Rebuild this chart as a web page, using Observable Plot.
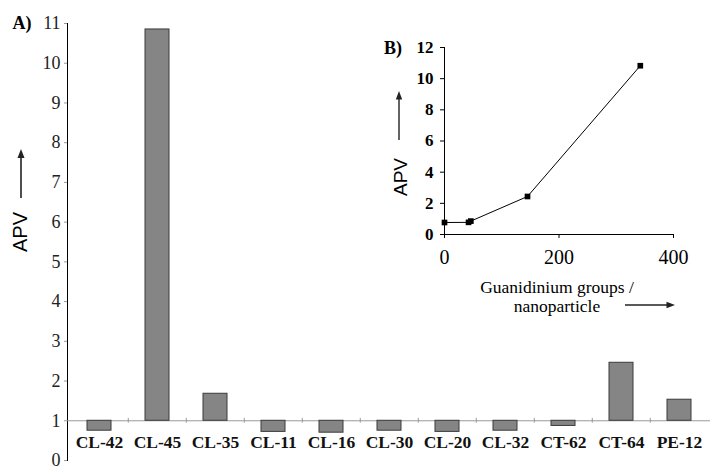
<!DOCTYPE html>
<html><head><meta charset="utf-8">
<script src="https://cdn.jsdelivr.net/npm/d3@7"></script>
<script src="https://cdn.jsdelivr.net/npm/@observablehq/plot@0.6"></script>
<style>
body{margin:0;background:#fff;}
#wrap{position:relative;width:710px;height:466px;overflow:hidden;font-family:"Liberation Serif",serif;color:#000;}
.abs{position:absolute;white-space:nowrap;line-height:1;}
.rot{transform:translate(-50%,-50%) rotate(-90deg);}
.ctr{transform:translate(-50%,-50%);}
#main svg g[aria-label*="y-axis"] line, #main svg g[aria-label*="y-axis"] path{stroke:#999 !important;}
#main svg g[aria-label*="y-axis"] text{font-family:"Liberation Serif",serif !important;font-size:18px !important;fill:#222;}
#inset svg g[aria-label*="x-axis"] text{font-family:"Liberation Serif",serif !important;font-size:20px !important;}
#inset svg g[aria-label*="y-axis"] text{font-family:"Liberation Serif",serif !important;font-size:17px !important;font-weight:bold;}
</style></head><body><div id="wrap"><div id="main" class="abs" style="left:0;top:0"></div><div id="inset" class="abs" style="left:370px;top:30px"></div></div>
<script>
// ---- data ----
const categories = ["CL-42","CL-45","CL-35","CL-11","CL-16","CL-30","CL-20","CL-32","CT-62","CT-64","PE-12"];
const apv = [0.75,10.85,1.68,0.72,0.70,0.75,0.72,0.75,0.87,2.46,1.53];
const baseline = 1;
const yTicks = [0,1,2,3,4,5,6,7,8,9,10,11];
const guanidinium = [0,42,46,145,342];
const apvInset = [0.77,0.78,0.86,2.44,10.83];
const insetXTicks = [0,200,400];
const insetYTicks = [0,2,4,6,8,10,12];

// ---- main bar chart ----
const W = 710, H = 466, mL = 67, mR = 0;
const step = (W - mL - mR) / categories.length;
const rows = categories.map((c, i) => ({cat: c, v: apv[i]}));
const main = Plot.plot({
  width: W, height: H, marginLeft: mL, marginRight: mR, marginTop: 23, marginBottom: 6,
  style: {fontFamily: "Liberation Serif", fontSize: "15px", background: "transparent", color: "#000"},
  x: {domain: categories, paddingInner: 0.59, paddingOuter: 0.295, axis: null},
  y: {domain: [0, 11], ticks: yTicks, tickSize: 3, tickPadding: 4, line: true, label: null, tickFormat: d => d},
  marks: [
    Plot.ruleY([baseline], {stroke: "#999"}),
    Plot.ruleX(categories.slice(1), {x: d => d, dx: -step / 2, y1: baseline - 0.06, y2: baseline + 0.06, stroke: "#999"}),
    Plot.barY(rows, {x: "cat", y1: baseline, y2: "v", fill: "#858585", stroke: "#3a3a3a", strokeWidth: 1}),
    Plot.text(categories, {x: d => d, y: 0.45, text: d => d, fontWeight: "bold", fontSize: 17.5, fill: "#111"})
  ]
});
document.getElementById("main").appendChild(main);

// ---- inset line chart ----
const pts = guanidinium.map((g, i) => ({g, v: apvInset[i]}));
const inset = Plot.plot({
  width: 330, height: 250, marginLeft: 74, marginRight: 27, marginTop: 17, marginBottom: 46,
  style: {fontFamily: "Liberation Serif", fontSize: "16px", background: "transparent", color: "#000"},
  x: {domain: [0, 400], ticks: insetXTicks, tickSize: 4, tickPadding: 11, line: true, label: null},
  y: {domain: [0, 12], ticks: insetYTicks, tickSize: 4, tickPadding: 7, line: true, label: null},
  marks: [
    Plot.line(pts, {x: "g", y: "v", stroke: "#000", strokeWidth: 1}),
    Plot.dot(pts, {x: "g", y: "v", symbol: "square", fill: "#000", r: 3.2})
  ]
});
document.getElementById("inset").appendChild(inset);

// ---- labels & annotation arrows ----
const wrap = document.getElementById("wrap");
function label(txt, x, y, cls, css) {
  const d = document.createElement("div");
  d.className = "abs " + cls;
  d.textContent = txt;
  d.style.cssText += `left:${x}px;top:${y}px;` + css;
  wrap.appendChild(d);
}
label("A)", 22, 23, "ctr", "font-weight:bold;font-size:18px;");
label("APV", 20, 232, "rot", "font-family:'Liberation Sans',sans-serif;font-size:20px;");
label("B)", 393, 48, "ctr", "font-weight:bold;font-size:18px;");
label("APV", 400, 177, "rot", "font-family:'Liberation Sans',sans-serif;font-size:19px;");
label("Guanidinium groups /", 557, 288, "ctr", "font-size:17.5px;");
label("nanoparticle", 557, 307, "ctr", "font-size:17.5px;");

const ns = "http://www.w3.org/2000/svg";
const ov = document.createElementNS(ns, "svg");
ov.setAttribute("width", W); ov.setAttribute("height", H);
ov.style.cssText = "position:absolute;left:0;top:0;pointer-events:none";
ov.innerHTML = `
<line x1="21" y1="198" x2="21" y2="156" stroke="#222" stroke-width="1.6"/>
<path d="M21,149 L17.5,158 L24.5,158 Z" fill="#222"/>
<line x1="399" y1="140" x2="399" y2="98" stroke="#222" stroke-width="1.4"/>
<path d="M399,91 L395.8,99.5 L402.2,99.5 Z" fill="#222"/>
<line x1="625" y1="305" x2="668" y2="305" stroke="#222" stroke-width="1.4"/>
<path d="M675,305 L666.5,301.8 L666.5,308.2 Z" fill="#222"/>`;
wrap.appendChild(ov);
</script></body></html>
